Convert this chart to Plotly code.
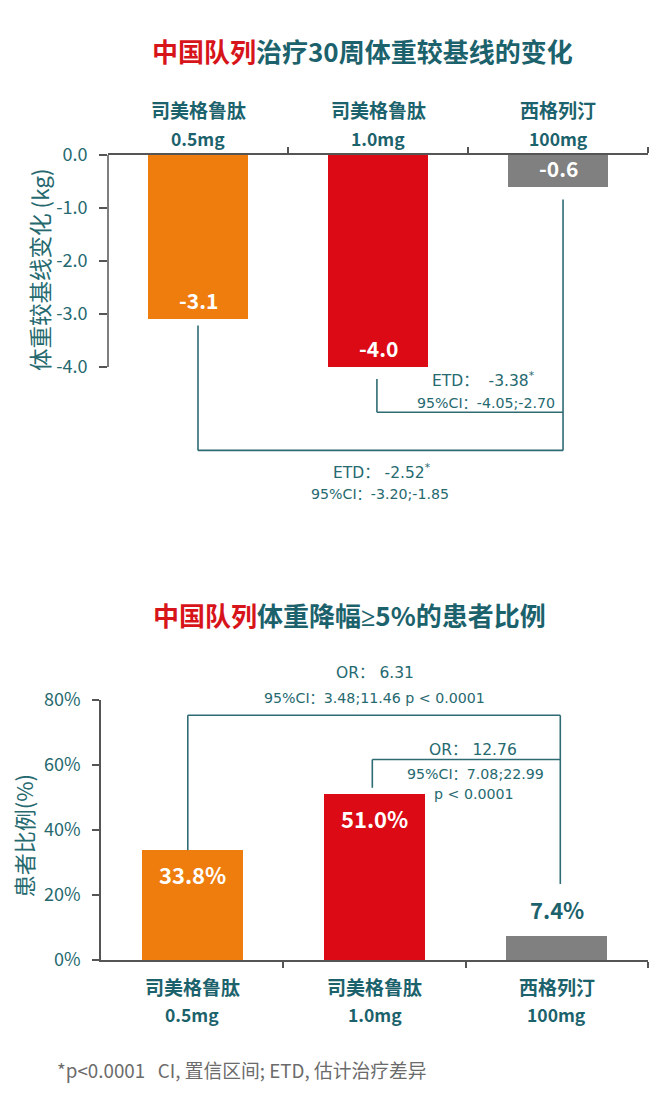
import plotly.graph_objects as go

# ---------------- data ----------------
groups = ["司美格鲁肽", "司美格鲁肽", "西格列汀"]
doses = ["0.5mg", "1.0mg", "100mg"]
weight_change = [-3.1, -4.0, -0.6]
weight_labels = ["-3.1", "-4.0", "-0.6"]
pct_responders = [33.8, 51.0, 7.4]
pct_labels = ["33.8%", "51.0%", "7.4%"]
top_ticks = [0, -1, -2, -3, -4]
top_ticktext = ["0.0", "-1.0", "-2.0", "-3.0", "-4.0"]
bot_ticks = [0, 20, 40, 60, 80]
bot_ticktext = ["0%", "20%", "40%", "60%", "80%"]

ORANGE = "#EE7D0E"
RED = "#DC0A14"
GRAY = "#808080"
bar_colors = [ORANGE, RED, GRAY]
TEAL = "#1C626C"
TEAL2 = "#26696F"
LINE = "#2F6B73"
AXIS = "#555555"
FONT = "Noto Sans CJK SC, Noto Sans, sans-serif"
STAT_FONT = "DejaVu Sans, Noto Sans CJK SC, sans-serif"

W, H = 660, 1094
x_pos = list(range(len(groups)))

fig = go.Figure()
fig.add_trace(go.Bar(x=x_pos, y=weight_change, width=0.555,
                     marker=dict(color=bar_colors, line=dict(width=0)),
                     xaxis="x", yaxis="y", showlegend=False, hoverinfo="skip"))
fig.add_trace(go.Bar(x=x_pos, y=pct_responders, width=0.555,
                     marker=dict(color=bar_colors, line=dict(width=0)),
                     xaxis="x2", yaxis="y2", showlegend=False, hoverinfo="skip"))

ann = []
shapes = []


def A(**kw):
    kw.setdefault("showarrow", False)
    kw.setdefault("xanchor", "center")
    kw.setdefault("yanchor", "middle")
    ann.append(kw)


# titles
A(xref="paper", yref="paper", x=362 / W, y=1 - 36 / H,
  text="<span style='color:#D7141A'>中国队列</span>治疗30周体重较基线的变化",
  font=dict(size=26, color=TEAL, family=FONT, weight="bold"))
A(xref="paper", yref="paper", x=349 / W, y=1 - 615 / H,
  text="<span style='color:#D7141A'>中国队列</span>体重降幅"
       "<span style='font-family:Noto Sans'>≥</span>5%的患者比例",
  font=dict(size=26, color=TEAL, family=FONT, weight="bold"))

# category labels
for i in x_pos:
    A(xref="x", yref="paper", x=i, y=1 - 97 / H, text=groups[i],
      font=dict(size=19, color=TEAL, family=FONT, weight="bold"))
    A(xref="x", yref="paper", x=i, y=1 - 126 / H, text=doses[i],
      font=dict(size=17.5, color=TEAL, family=FONT, weight="bold"))
    A(xref="x2", yref="paper", x=i, y=1 - 995 / H, text=groups[i],
      font=dict(size=19, color=TEAL, family=FONT, weight="bold"))
    A(xref="x2", yref="paper", x=i, y=1 - 1024 / H, text=doses[i],
      font=dict(size=17.5, color=TEAL, family=FONT, weight="bold"))

# bar value labels
for i in x_pos:
    A(xref="x", yref="y", x=i, y=weight_change[i], yshift=19,
      text=weight_labels[i],
      font=dict(size=21, color="#FFFFFF", family=FONT, weight="bold"))
for i in x_pos:
    inside = pct_responders[i] > 20
    A(xref="x2", yref="y2", x=i, y=pct_responders[i],
      yshift=-24 if inside else 27, text=pct_labels[i],
      font=dict(size=22, color="#FFFFFF" if inside else TEAL,
                family=FONT, weight="bold"))

# y-axis titles
A(xref="paper", yref="y", x=39 / W, y=-2.17, textangle=-90,
  text="体重较基线变化 (kg)", font=dict(size=22.5, color=TEAL2, family=FONT))
A(xref="paper", yref="y2", x=23 / W, y=38.1, textangle=-90,
  text="患者比例(%)", font=dict(size=22, color=TEAL2, family=FONT))

# statistics text (top chart)
big = dict(size=15.5, color=TEAL2, family=STAT_FONT)
small = dict(size=14.2, color=TEAL2, family=STAT_FONT)
A(xref="x", yref="y", x=1.585, y=-4.23, text="ETD：  -3.38<sup>*</sup>", font=big)
A(xref="x", yref="y", x=1.6, y=-4.69, text="95%CI：-4.05;-2.70", font=small)
A(xref="x", yref="y", x=1.02, y=-5.98, text="ETD： -2.52<sup>*</sup>", font=big)
A(xref="x", yref="y", x=1.01, y=-6.39, text="95%CI：-3.20;-1.85", font=small)
# statistics text (bottom chart) - the first two sit above the 80% axis top
A(xref="x2", yref="paper", x=1.0, y=1 - 674 / H, text="OR： 6.31", font=big)
A(xref="x2", yref="paper", x=1.0, y=1 - 700 / H,
  text="95%CI：3.48;11.46 p < 0.0001", font=small)
A(xref="x2", yref="y2", x=1.54, y=64.7, text="OR： 12.76", font=big)
A(xref="x2", yref="y2", x=1.555, y=57.2, text="95%CI：7.08;22.99", font=small)
A(xref="x2", yref="y2", x=1.545, y=51.1, text="p < 0.0001", font=small)

# footnote
A(xref="paper", yref="paper", x=55 / W, y=1 - 1080 / H, xanchor="left",
  text="*p<0.0001   CI, 置信区间; ETD, 估计治疗差异",
  font=dict(size=18.8, color="#6B6B6B", family=FONT))


# brackets
def bline(xr, yr, x0, y0, x1, y1):
    shapes.append(dict(type="line", xref=xr, yref=yr, x0=x0, y0=y0, x1=x1, y1=y1,
                       line=dict(color=LINE, width=1.6)))


# top: inner bracket (1.0mg vs sitagliptin)
bline("x", "y", 0.994, -4.23, 0.994, -4.857)
bline("x", "y", 0.994, -4.857, 2.028, -4.857)
# top: outer bracket (0.5mg vs sitagliptin)
bline("x", "y", 0.0, -3.217, 0.0, -5.576)
bline("x", "y", 0.0, -5.576, 2.028, -5.576)
bline("x", "y", 2.028, -0.839, 2.028, -5.576)

# bottom: outer bracket
bline("x2", "y2", -0.024, pct_responders[0], -0.024, 75.3)
bline("x2", "y2", -0.024, 75.3, 2.019, 75.3)
bline("x2", "y2", 2.019, 75.3, 2.019, 23.4)
# bottom: inner bracket
bline("x2", "y2", 0.988, 53.0, 0.988, 61.7)
bline("x2", "y2", 0.988, 61.7, 2.019, 61.7)

# top y axis line (only across tick range)
shapes.append(dict(type="line", xref="x domain", yref="y", x0=0, x1=0,
                   y0=top_ticks[0], y1=top_ticks[-1],
                   line=dict(color=AXIS, width=1.5)))

fig.update_layout(
    width=W, height=H, autosize=False,
    margin=dict(l=0, r=0, t=0, b=0),
    paper_bgcolor="white", plot_bgcolor="white",
    font=dict(family=FONT, color=TEAL2),
    bargap=0, showlegend=False,
    annotations=ann, shapes=shapes,
    xaxis=dict(domain=[108 / W, 648 / W], range=[-0.5, 2.5], anchor="y", side="top",
               showline=True, linecolor=AXIS, linewidth=1.5, ticks="outside",
               ticklen=6, tickcolor=AXIS, tickwidth=1.5, tickvals=[0.5, 1.5, 2.5],
               showticklabels=False, showgrid=False, zeroline=False, fixedrange=True),
    yaxis=dict(domain=[1 - 500 / H, 1 - 143.5 / H], range=[-6.5714, 0], anchor="x",
               showline=False, ticks="outside", ticklen=8, tickcolor=AXIS, tickwidth=1.5,
               tickvals=top_ticks, ticktext=top_ticktext, ticklabelstandoff=8,
               tickfont=dict(size=18, color=TEAL2, family=FONT),
               showgrid=False, zeroline=False, fixedrange=True),
    xaxis2=dict(domain=[101 / W, 648 / W], range=[-0.5, 2.5], anchor="y2", side="bottom",
                showline=True, linecolor=AXIS, linewidth=1.5, ticks="outside",
                ticklen=6, tickcolor=AXIS, tickwidth=1.5, tickvals=[0.5, 1.5, 2.5],
                showticklabels=False, showgrid=False, zeroline=False, fixedrange=True),
    yaxis2=dict(domain=[1 - 968 / H, 1 - 701.7 / H], range=[0, 80], anchor="x2",
                showline=True, linecolor=AXIS, linewidth=1.5, ticks="outside",
                ticklen=7, tickcolor=AXIS, tickwidth=1.5,
                tickvals=bot_ticks, ticktext=bot_ticktext, ticklabelstandoff=8,
                tickfont=dict(size=18, color=TEAL2, family=FONT),
                showgrid=False, zeroline=False, fixedrange=True),
)

fig.write_html("out.html", config={"displayModeBar": False})
